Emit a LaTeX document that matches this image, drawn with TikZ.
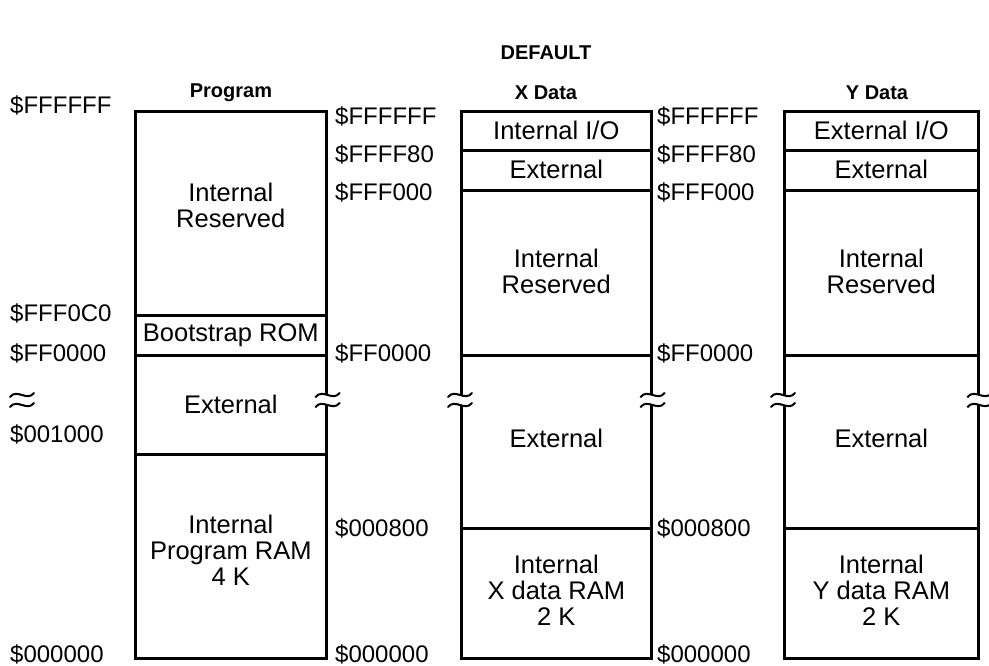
\documentclass[tikz,border=0pt]{standalone}
\usepackage{fontspec}
\setmainfont{Liberation Sans}
\newcommand\bfnt{\fontsize{25.5}{26}\selectfont}
\newcommand\afnt{\fontsize{24}{25}\selectfont}
\newcommand\hfnt{\fontsize{20}{22}\selectfont\bfseries}
\newcommand\brkmark[1]{%
  \fill[white] ($(#1)+(-3,-5)$) rectangle ($(#1)+(3,5)$);
  \draw[tilde] ($(#1)+(-12,-3)$) .. controls ($(#1)+(-5,-12)$) and ($(#1)+(5,2)$) .. ($(#1)+(12,-7)$);
  \draw[tilde] ($(#1)+(-12,7)$) .. controls ($(#1)+(-5,-2)$) and ($(#1)+(5,12)$) .. ($(#1)+(12,3)$);
}
\usetikzlibrary{calc}
\begin{document}
\begin{tikzpicture}[x=1pt,y=-1pt,
  box/.style={draw, line width=2.6pt, anchor=north west, inner sep=0pt},
  txt/.style={inner sep=0pt, align=center, font=\bfnt},
  addr/.style={anchor=west, inner sep=0pt, font=\afnt},
  head/.style={inner sep=0pt, font=\hfnt},
  tilde/.style={line width=2pt, line cap=round}]
\useasboundingbox (0,0) rectangle (989,666);
% headings
\node[head] (hdef) at (546,53) {DEFAULT};
\node[head] (hprog) at (231,93) {Program};
\node[head] (hx) at (546,93) {X Data};
\node[head] (hy) at (877,93) {Y Data};
% Program
\node[box, minimum width=191, minimum height=204] (p1) at (134,110) {};
\node[box, minimum width=191, minimum height=40] (p2) at (134,314) {};
\node[box, minimum width=191, minimum height=99] (p3) at (134,354) {};
\node[box, minimum width=191, minimum height=204] (p4) at (134,453) {};
\node[txt] (tp1) at ($(p1.center)+(0,-8)$) {Internal\\Reserved};
\node[txt] (tp2) at (p2.center) {Bootstrap ROM};
\node[txt] (tp3) at (p3.center) {External};
\node[txt] (tp4) at ($(p4.center)+(0,-6)$) {Internal\\Program RAM\\4 K};
% X data
\node[box, minimum width=190, minimum height=39] (x1) at (460,110) {};
\node[box, minimum width=190, minimum height=40] (x2) at (460,149) {};
\node[box, minimum width=190, minimum height=165] (x3) at (460,189) {};
\node[box, minimum width=190, minimum height=173] (x4) at (460,354) {};
\node[box, minimum width=190, minimum height=130] (x5) at (460,527) {};
\node[txt] (tx1) at (x1.center) {Internal I/O};
\node[txt] (tx2) at ($(x2.center)+(0,-1)$) {External};
\node[txt] (tx3) at ($(x3.center)+(0,-1)$) {Internal\\Reserved};
\node[txt] (tx4) at ($(x4.center)+(0,-3)$) {External};
\node[txt] (tx5) at ($(x5.center)+(0,-3)$) {Internal\\X data RAM\\2 K};
% Y data
\node[box, minimum width=194, minimum height=39] (y1) at (783,110) {};
\node[box, minimum width=194, minimum height=40] (y2) at (783,149) {};
\node[box, minimum width=194, minimum height=165] (y3) at (783,189) {};
\node[box, minimum width=194, minimum height=173] (y4) at (783,354) {};
\node[box, minimum width=194, minimum height=130] (y5) at (783,527) {};
\node[txt] (ty1) at (y1.center) {External I/O};
\node[txt] (ty2) at ($(y2.center)+(0,-1)$) {External};
\node[txt] (ty3) at ($(y3.center)+(0,-1)$) {Internal\\Reserved};
\node[txt] (ty4) at ($(y4.center)+(0,-3)$) {External};
\node[txt] (ty5) at ($(y5.center)+(0,-3)$) {Internal\\Y data RAM\\2 K};
% addresses program
\node[addr] (pa1) at (10,105) {\$FFFFFF};
\node[addr] (pa2) at (10,313) {\$FFF0C0};
\node[addr] (pa3) at (10,353) {\$FF0000};
\node[addr] (pa4) at (10,434) {\$001000};
\node[addr] (pa5) at (10,654) {\$000000};
% addresses X
\node[addr] (xa1) at (335,116) {\$FFFFFF};
\node[addr] (xa2) at (335,154) {\$FFFF80};
\node[addr] (xa3) at (335,192) {\$FFF000};
\node[addr] (xa4) at (335,353) {\$FF0000};
\node[addr] (xa5) at (335,528) {\$000800};
\node[addr] (xa6) at (335,654) {\$000000};
% addresses Y
\node[addr] (ya1) at (657,116) {\$FFFFFF};
\node[addr] (ya2) at (657,154) {\$FFFF80};
\node[addr] (ya3) at (657,192) {\$FFF000};
\node[addr] (ya4) at (657,353) {\$FF0000};
\node[addr] (ya5) at (657,528) {\$000800};
\node[addr] (ya6) at (657,654) {\$000000};
% break marks
\coordinate (b0) at (22,400);
\coordinate (b1) at (p3.east |- b0);
\coordinate (b2) at (x4.west |- b0);
\coordinate (b3) at (x4.east |- b0);
\coordinate (b4) at (y4.west |- b0);
\coordinate (b5) at (y4.east |- b0);
\draw[tilde] ($(b0)+(-12,-3)$) .. controls ($(b0)+(-5,-12)$) and ($(b0)+(5,2)$) .. ($(b0)+(12,-7)$);
\draw[tilde] ($(b0)+(-12,7)$) .. controls ($(b0)+(-5,-2)$) and ($(b0)+(5,12)$) .. ($(b0)+(12,3)$);
\brkmark{b1}
\brkmark{b2}
\brkmark{b3}
\brkmark{b4}
\brkmark{b5}
\end{tikzpicture}
\end{document}
